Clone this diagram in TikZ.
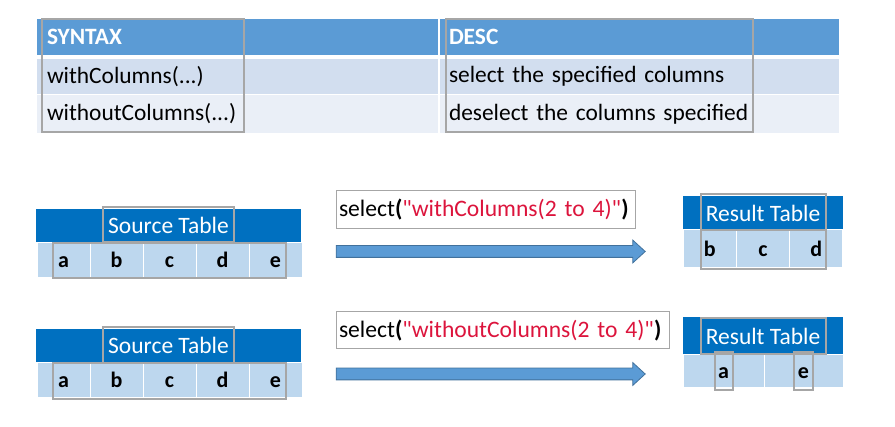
\documentclass[tikz,border=0pt]{standalone}
\usepackage{fontspec}
\setmainfont{Carlito}
\usetikzlibrary{shapes.arrows}

\definecolor{hdrblue}{HTML}{5B9BD5}
\definecolor{bandA}{HTML}{D2DEEF}
\definecolor{bandB}{HTML}{EAEFF7}
\definecolor{srcblue}{HTML}{0070C0}
\definecolor{cellblue}{HTML}{BDD7EE}
\definecolor{framegray}{HTML}{A6A6A6}
\definecolor{strred}{HTML}{DC143C}
\definecolor{arrowline}{HTML}{41719C}

\newcommand\tabfont{\fontsize{23.4}{27}\selectfont}
\newcommand\titlefont{\fontsize{23.5}{28}\selectfont}
\newcommand\letterfont{\fontsize{22}{26}\selectfont\bfseries}
\newcommand\codefont{\fontsize{23.6}{28}\selectfont}
\newcommand\qt{\textquotedbl}

\begin{document}
\begin{tikzpicture}[%
    x=1pt, y=-1pt,              % Work in screen pixels, y going down
    every node/.style={inner sep=0, outer sep=0},
    ]
% -------------------------------------------------
% Box styles
\tikzset{
  base/.style={anchor=north west, align=left, text width=381},
  hdr/.style={base, fill=hdrblue, text=white, font=\tabfont\bfseries},
  bandone/.style={base, fill=bandA, font=\tabfont},
  bandtwo/.style={base, fill=bandB, font=\tabfont},
  tblhead/.style={anchor=north west, fill=srcblue, text=white, font=\titlefont},
  cell/.style={anchor=north west, fill=cellblue, draw=white, line width=1,
    font=\letterfont, text height=15, text depth=0},
  frame/.style={draw=framegray, line width=1.2},
  code/.style={anchor=north west, draw=framegray, line width=1, font=\codefont,
    align=left, inner xsep=3},
  blockarrow/.style={single arrow, fill=hdrblue, draw=arrowline, line width=0.8,
    minimum height=309, inner ysep=5.5, single arrow head extend=5.5,
    single arrow tip angle=85},
}
\useasboundingbox (0,0) rectangle (895,427);
% -------------------------------------------------
% The syntax table
\node [hdr, minimum width=401, minimum height=36, inner xsep=10] (synh) at (37,19) {SYNTAX};
\node [hdr, minimum width=399, minimum height=36, inner xsep=9] (desh) at (440,19) {DESC};
\node [bandone, minimum width=401, minimum height=35, inner xsep=10] (syn1) at (37,59) {withColumns(...)};
\node [bandone, minimum width=399, minimum height=35, inner xsep=9] (des1) at (440,59) {select the specified columns};
\node [bandtwo, minimum width=401, minimum height=38, inner xsep=10] (syn2) at (37,95) {withoutColumns(...)};
\node [bandtwo, minimum width=399, minimum height=38, inner xsep=9] (des2) at (440,95) {deselect the columns specified};
\draw [frame] (42,19) rectangle (244,132);
\draw [frame] (446,19) rectangle (753,132);

% -------------------------------------------------
% First case: withColumns
\node [tblhead, minimum width=265, minimum height=33] (srcA) at (36,209) {Source Table};
\foreach \l [count=\i from 0] in {a,b,c,d,e}
  \node [cell, minimum width=53, minimum height=35] (srcA\l) at (37+53*\i,243) {\l};
\draw [frame] (103,207) rectangle (234,242);
\draw [frame] (53,243) rectangle (286,278);

\node [code, text width=293, minimum height=38] (cmdA) at (336,191)
  {\mbox{select\textbf{(}\textcolor{strred}{\qt withColumns(2 to 4)\qt}\textbf{)}}};
\node [blockarrow] (arrA) at (487.5,251.5) {};

\node [tblhead, minimum width=160, minimum height=34] (resA) at (683,196) {Result Table};
\foreach \l [count=\i from 0] in {b,c,d}
  \node [cell, minimum width=53.33, minimum height=38] (resA\l) at (683+53.33*\i,230) {\l};
\draw [frame] (701,194) rectangle (826,230);
\draw [frame] (701,230) rectangle (826,269);

% -------------------------------------------------
% Second case: withoutColumns
\node [tblhead, minimum width=265, minimum height=33] (srcB) at (36,329) {Source Table};
\foreach \l [count=\i from 0] in {a,b,c,d,e}
  \node [cell, minimum width=53, minimum height=35] (srcB\l) at (37+53*\i,363) {\l};
\draw [frame] (103,327) rectangle (234,363);
\draw [frame] (53,363) rectangle (286,399);

\node [code, text width=327, minimum height=37] (cmdB) at (336,312)
  {\mbox{select\textbf{(}\textcolor{strred}{\qt withoutColumns(2 to 4)\qt}\textbf{)}}};
\node [blockarrow] (arrB) at (487.5,374) {};

\node [tblhead, minimum width=160, minimum height=38] (resB) at (683,317) {Result Table};
\node [cell, minimum width=81, minimum height=33] (resBa) at (683,355) {a};
\node [cell, minimum width=79, minimum height=33] (resBe) at (764,355) {e};
\draw [frame] (701,318) rectangle (826,354);
\draw [frame] (715,352) rectangle (733,390);
\draw [frame] (794,352) rectangle (813,390);

% -------------------------------------------------
\end{tikzpicture}
\end{document}
